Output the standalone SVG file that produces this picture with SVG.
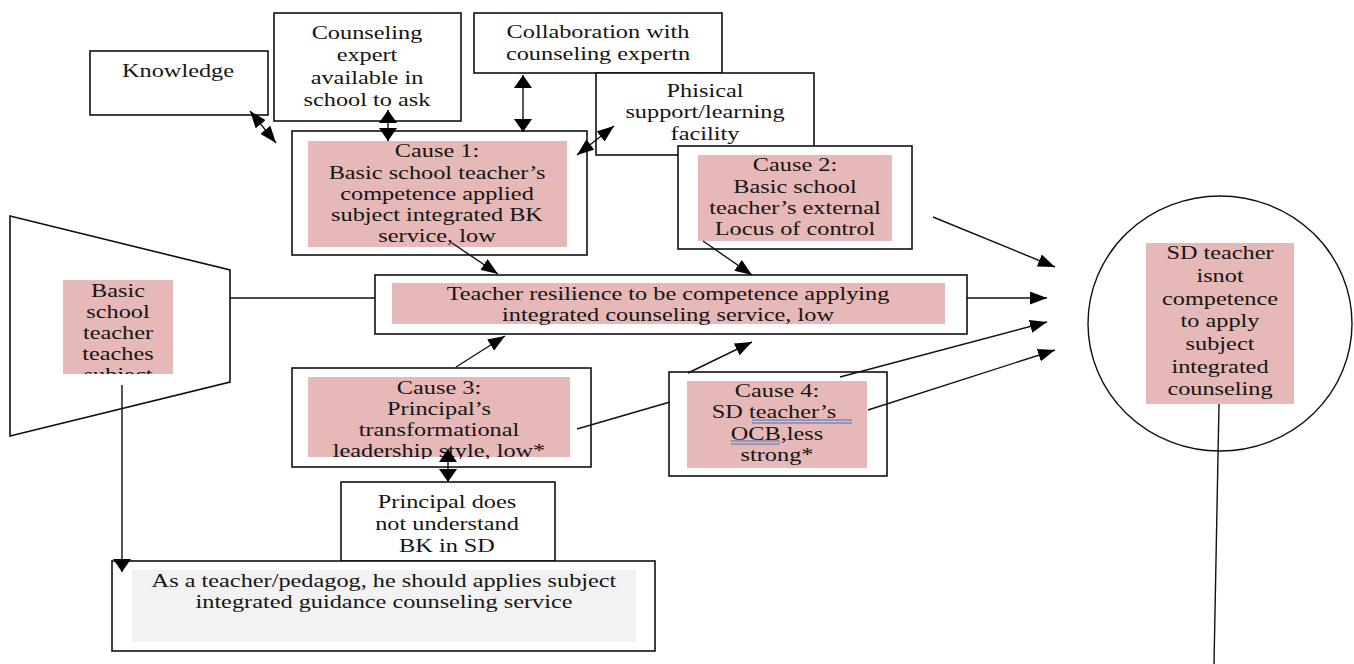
<svg xmlns="http://www.w3.org/2000/svg" width="1354" height="664" viewBox="0 0 1354 664">
<style>
.box{fill:#fff;stroke:#111;stroke-width:1.6}
.pink{fill:#e6b8b7}
.gray{fill:#f2f2f2}
.t{font-family:"Liberation Serif","Times New Roman",serif;font-size:18px;fill:#151515;text-anchor:middle}
.c{stroke:#111;stroke-width:1.4;fill:none}
.ul{stroke:#4472c4;stroke-width:1.2}
</style>
<defs>
<marker id="ah" markerUnits="userSpaceOnUse" viewBox="0 0 17 13" markerWidth="17" markerHeight="13" refX="17" refY="6.5" orient="auto-start-reverse"><path d="M0,0 L17,6.5 L0,13 z" fill="#000"/></marker>
<marker id="ahw" markerUnits="userSpaceOnUse" viewBox="0 0 13 18" markerWidth="13" markerHeight="18" refX="13" refY="9" orient="auto-start-reverse"><path d="M0,0 L13,9 L0,18 z" fill="#000"/></marker>
<clipPath id="clipTrap"><rect x="63" y="280" width="110" height="94"/></clipPath>
<clipPath id="clipC3"><rect x="308" y="377" width="262" height="82"/></clipPath>
</defs>

<g id="knowledge">
<rect class="box" x="90" y="51" width="178" height="64"/>
<text class="t" transform="translate(178 0) scale(1.35 1)"><tspan x="0" y="77">Knowledge</tspan></text>
</g>

<g id="counseling-expert">
<rect class="box" x="274" y="13" width="187" height="108"/>
<text class="t" transform="translate(367 0) scale(1.35 1)"><tspan x="0" y="39">Counseling</tspan><tspan x="0" y="61.5">expert</tspan><tspan x="0" y="84">available in</tspan><tspan x="0" y="106.5">school to ask</tspan></text>
</g>

<g id="collaboration">
<rect class="box" x="474" y="13" width="248" height="60"/>
<text class="t" transform="translate(598 0) scale(1.35 1)"><tspan x="0" y="38">Collaboration with</tspan><tspan x="0" y="60">counseling expertn</tspan></text>
</g>

<g id="physical-support">
<rect class="box" x="596" y="73" width="218" height="82"/>
<text class="t" transform="translate(705 0) scale(1.35 1)"><tspan x="0" y="97">Phisical</tspan><tspan x="0" y="118.5">support/learning</tspan><tspan x="0" y="140">facility</tspan></text>
</g>

<g id="cause1">
<rect class="box" x="292" y="131" width="295" height="124"/>
<rect class="pink" x="308" y="141" width="259" height="106"/>
<text class="t" transform="translate(437 0) scale(1.35 1)"><tspan x="0" y="157.5">Cause 1:</tspan><tspan x="0" y="179">Basic school teacher’s</tspan><tspan x="0" y="200">competence applied</tspan><tspan x="0" y="221">subject integrated BK</tspan><tspan x="0" y="242">service, low</tspan></text>
</g>

<g id="cause2">
<rect class="box" x="678" y="146" width="234" height="103"/>
<rect class="pink" x="698" y="155" width="194" height="86"/>
<text class="t" transform="translate(795 0) scale(1.35 1)"><tspan x="0" y="171">Cause 2:</tspan><tspan x="0" y="193">Basic school</tspan><tspan x="0" y="214">teacher’s external</tspan><tspan x="0" y="235.5">Locus of control</tspan></text>
</g>

<g id="basic-teacher">
<polygon class="box" points="10,216 230,270 230,382 10,436"/>
<rect class="pink" x="63" y="280" width="110" height="94"/>
<g clip-path="url(#clipTrap)">
<text class="t" transform="translate(118 0) scale(1.35 1)"><tspan x="0" y="297">Basic</tspan><tspan x="0" y="318">school</tspan><tspan x="0" y="339">teacher</tspan><tspan x="0" y="360">teaches</tspan><tspan x="0" y="381">subject</tspan></text>
</g>
</g>

<g id="resilience">
<rect class="box" x="375" y="275" width="592" height="59"/>
<rect class="pink" x="392" y="283" width="553" height="41"/>
<text class="t" transform="translate(668 0) scale(1.35 1)"><tspan x="0" y="300">Teacher resilience to be competence applying</tspan><tspan x="0" y="321.5">integrated counseling service, low</tspan></text>
</g>

<g id="cause3">
<rect class="box" x="292" y="368" width="299" height="99"/>
<rect class="pink" x="308" y="377" width="262" height="80"/>
<g clip-path="url(#clipC3)">
<text class="t" transform="translate(439 0) scale(1.35 1)"><tspan x="0" y="394">Cause 3:</tspan><tspan x="0" y="415">Principal’s</tspan><tspan x="0" y="436">transformational</tspan><tspan x="0" y="457.5">leadership style, low*</tspan></text>
</g>
</g>

<g id="cause4">
<rect class="box" x="669" y="372" width="218" height="104"/>
<rect class="pink" x="687" y="381" width="180" height="87"/>
<text class="t" transform="translate(777 0) scale(1.35 1)"><tspan x="0" y="397">Cause 4:</tspan><tspan x="0" y="418">SD teacher’s </tspan><tspan x="0" y="440">OCB,less</tspan><tspan x="0" y="461">strong*</tspan></text>
<line class="ul" x1="752" y1="420" x2="852" y2="420"/>
<line class="ul" x1="752" y1="423" x2="852" y2="423"/>
<line class="ul" x1="731" y1="441" x2="780" y2="441"/>
<line class="ul" x1="731" y1="444" x2="780" y2="444"/>
</g>

<g id="principal">
<rect class="box" x="341" y="482" width="214" height="79"/>
<text class="t" transform="translate(447 0) scale(1.35 1)"><tspan x="0" y="508">Principal does</tspan><tspan x="0" y="530">not understand</tspan><tspan x="0" y="552">BK in SD</tspan></text>
</g>

<g id="pedagog">
<rect class="box" x="112" y="561" width="543" height="90"/>
<rect class="gray" x="132" y="570" width="504" height="72"/>
<text class="t" transform="translate(384 0) scale(1.35 1)"><tspan x="0" y="587">As a teacher/pedagog, he should applies subject</tspan><tspan x="0" y="608.5">integrated guidance counseling service</tspan></text>
</g>

<g id="sd-teacher">
<ellipse cx="1220" cy="323.5" rx="132" ry="127.5" fill="#fff" stroke="#111" stroke-width="1.4"/>
<rect class="pink" x="1146" y="243" width="148" height="161"/>
<text class="t" transform="translate(1220 0) scale(1.35 1)"><tspan x="0" y="259">SD teacher</tspan><tspan x="0" y="282">isnot</tspan><tspan x="0" y="305">competence</tspan><tspan x="0" y="327">to apply</tspan><tspan x="0" y="350">subject</tspan><tspan x="0" y="373">integrated</tspan><tspan x="0" y="395">counseling</tspan></text>
</g>

<g id="connectors">
<line class="c" x1="250" y1="111" x2="276" y2="143" marker-start="url(#ah)" marker-end="url(#ah)"/>
<line class="c" x1="388" y1="110" x2="388" y2="141" marker-start="url(#ahw)" marker-end="url(#ahw)"/>
<line class="c" x1="523" y1="75" x2="523" y2="132" marker-start="url(#ahw)" marker-end="url(#ahw)"/>
<line class="c" x1="614" y1="126" x2="577" y2="155" marker-start="url(#ah)" marker-end="url(#ah)"/>
<line class="c" x1="452" y1="243" x2="498" y2="274" marker-end="url(#ah)"/>
<line class="c" x1="703" y1="241" x2="752" y2="275" marker-end="url(#ah)"/>
<line class="c" x1="456" y1="367" x2="505" y2="336" marker-end="url(#ah)"/>
<line class="c" x1="577" y1="429" x2="670" y2="402"/>
<line class="c" x1="688" y1="373" x2="752" y2="342" marker-end="url(#ah)"/>
<line class="c" x1="448" y1="449" x2="448" y2="482" marker-start="url(#ahw)" marker-end="url(#ahw)"/>
<line class="c" x1="122" y1="385" x2="122" y2="572" marker-end="url(#ahw)"/>
<line class="c" x1="230" y1="298" x2="375" y2="298"/>
<line class="c" x1="967" y1="298" x2="1047" y2="298" marker-end="url(#ah)"/>
<line class="c" x1="933" y1="217" x2="1055" y2="267" marker-end="url(#ah)"/>
<line class="c" x1="840" y1="377" x2="1047" y2="322" marker-end="url(#ah)"/>
<line class="c" x1="868" y1="410" x2="1055" y2="350" marker-end="url(#ah)"/>
<line class="c" x1="1219" y1="404" x2="1214" y2="664"/>
</g>
</svg>
